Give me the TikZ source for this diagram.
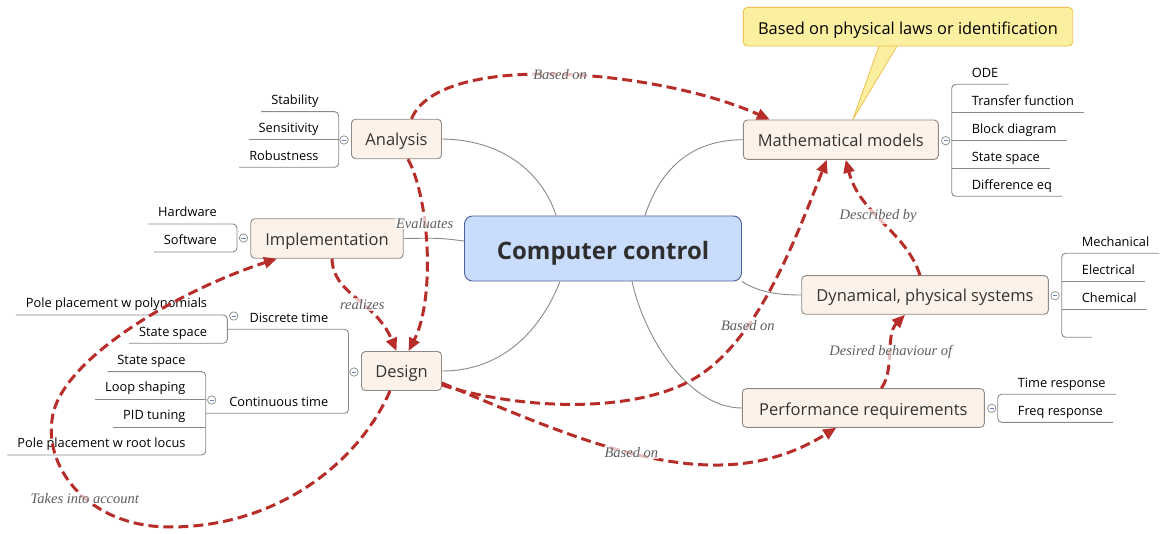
\documentclass[tikz,border=0pt]{standalone}
\usepackage{fontspec}
\setmainfont{Open Sans}
\newfontfamily\relfont{Liberation Serif}
\usepackage{tikz}
\usetikzlibrary{arrows.meta}
\usetikzlibrary{calc}

\definecolor{topicfill}{HTML}{FDF2E9}
\definecolor{topicline}{HTML}{8E8984}
\definecolor{centrefill}{HTML}{C9DCFB}
\definecolor{centreline}{HTML}{4A6399}
\definecolor{notefill}{HTML}{FBF0A0}
\definecolor{noteline}{HTML}{F0C453}
\definecolor{relred}{HTML}{B72D29}
\definecolor{labelgray}{HTML}{5E5E5E}
\definecolor{textgray}{HTML}{333333}
\definecolor{branchgray}{HTML}{8A8A8A}
\definecolor{foldblue}{HTML}{6B85C2}

\tikzset{
  topic/.style={draw=topicline, fill=topicfill, rounded corners=4pt, line width=0.9pt,
    inner sep=0pt, text height=14pt, text depth=0pt, text=textgray,
    font=\fontsize{16.5}{20}\selectfont},
  itemL/.style={anchor=south east, inner xsep=10pt, inner ysep=7pt, text height=9.5pt,
    text depth=0pt, font=\fontsize{12.8}{15}\selectfont, text=black},
  itemR/.style={itemL, anchor=south west},
  branch/.style={draw=branchgray, line width=0.9pt, rounded corners=4pt},
  spoke/.style={draw=branchgray, line width=0.9pt},
  rel/.style={draw=relred, line width=3pt, dash pattern=on 10pt off 5pt,
    -{Triangle[length=13pt, width=11pt]}},
  lbl/.style={font=\relfont\itshape\fontsize{14.5}{16}\selectfont, text=labelgray,
    fill=white, fill opacity=0.7, text opacity=1, inner sep=1pt},
  fold/.style={draw=branchgray, fill=white, line width=0.7pt}
}

\begin{document}
\begin{tikzpicture}[x=1pt, y=-1pt]

\fill[white] (0,0) rectangle (1170,534);
\useasboundingbox (0,0) rectangle (1170,534);

% main topic and its branches
\node[draw=centreline, fill=centrefill, rounded corners=8pt, line width=0.9pt,
  minimum width=277pt, minimum height=65pt, inner sep=0pt, text height=21.6pt, text depth=0pt,
  text=textgray!90!black, font=\bfseries\fontsize{24}{28}\selectfont]
  (centre) at (603,248.5) {Computer control};

\node[topic, minimum width=90pt, minimum height=39.5pt] (analysis) at (396.5,139) {Analysis};
\node[topic, minimum width=152.5pt, minimum height=39.5pt] (impl) at (327,238.5) {Implementation};
\node[topic, minimum width=80pt, minimum height=39pt] (design) at (401.5,371) {Design};
\node[topic, minimum width=195pt, minimum height=39.3pt] (models) at (840.8,139.7) {Mathematical models};
\node[topic, minimum width=246.6pt, minimum height=38.6pt] (systems) at (925,295) {Dynamical, physical systems};
\node[topic, minimum width=242pt, minimum height=38.6pt] (perf) at (863.3,408) {Performance requirements};

\draw[spoke] (analysis.east) .. controls (510,140) and (545,180) .. ([xshift=-47pt]centre.north);
\draw[spoke] (impl.east) .. controls (440,238) .. ([yshift=7.5pt]centre.west);
\draw[spoke] (design.east) .. controls (510,371) and (545,320) .. ([xshift=-43pt]centre.south);
\draw[spoke] ([xshift=42pt]centre.north) .. controls (660,170) and (690,140) .. (models.west);
\draw[spoke] (centre.south east) .. controls (760,293) and (780,295) .. (systems.west);
\draw[spoke] ([xshift=29pt]centre.south) .. controls (645,340) and (690,408) .. (perf.west);

% note
\fill[notefill] (880,45) -- ([xshift=12pt]models.north) -- (897,45) -- cycle;
\draw[noteline, line width=0.9pt] (879,46) -- ([xshift=12pt]models.north) -- (897,46);
\node[draw=noteline, fill=notefill, rounded corners=4pt, line width=0.9pt,
  minimum width=329.4pt, minimum height=38.7pt, inner sep=0pt, text height=15.2pt, text depth=0pt,
  font=\fontsize{16.4}{18}\selectfont, text=black] (note) at (908,26.7)
  {Based on physical laws or identification};

% subtopics
\node[itemL] (stab) at (328.7,111.7) {Stability};
\node[itemL] (sens) at (328.7,139.3) {Sensitivity};
\node[itemL] (robu) at (328.7,167.3) {Robustness};
\draw[branch] (stab.south west) -- ([xshift=10pt]stab.south east) |- (robu.south west);
\draw[branch] (sens.south west) -- ([xshift=10pt]sens.south east);

\node[itemL] (hw) at (227,224) {Hardware};
\node[itemL] (sw) at (227,252) {Software};
\draw[branch] (hw.south west) -- ([xshift=10pt]hw.south east) |- (sw.south west);

\node[itemL] (disc) at (338.5,329.3) {Discrete time};
\node[itemL] (cont) at (338.5,413.3) {Continuous time};
\node[itemL] (dpoly) at (217.3,315) {Pole placement w polynomials};
\node[itemL] (dss) at (217.3,343.3) {State space};
\node[itemL] (css) at (195.7,371.7) {State space};
\node[itemL] (loop) at (195.7,399) {Loop shaping};
\node[itemL] (pid) at (195.7,427) {PID tuning};
\node[itemL] (croot) at (195.7,455) {Pole placement w root locus};
\draw[branch] ([xshift=10pt]dpoly.south east |- disc.south) -- ([xshift=10pt]disc.south east)
  |- ([xshift=10pt]css.south east |- cont.south);
\draw[branch] (dpoly.south west) -- ([xshift=10pt]dpoly.south east) |- (dss.south west);
\draw[branch] (css.south west) -- ([xshift=10pt]css.south east) |- (croot.south west);
\draw[branch] (loop.south west) -- ([xshift=10pt]loop.south east);
\draw[branch] (pid.south west) -- ([xshift=10pt]pid.south east);

\node[itemR] (ode) at (961.7,84.3) {ODE};
\node[itemR] (tf) at (961.7,112.7) {Transfer function};
\node[itemR] (bd) at (961.7,140.7) {Block diagram};
\node[itemR] (mss) at (961.7,168.3) {State space};
\node[itemR] (deq) at (961.7,196.3) {Difference eq};
\draw[branch] (ode.south east) -- ([xshift=-10pt]ode.south west) |- (deq.south east);
\foreach \n in {tf,bd,mss}
  \draw[branch] (\n.south east) -- ([xshift=-10pt]\n.south west);

\node[itemR] (mech) at (1071.7,253.3) {Mechanical};
\node[itemR] (elec) at (1071.7,281.7) {Electrical};
\node[itemR] (chem) at (1071.7,309.3) {Chemical};
\node[itemR] (blank) at (1071.7,337.3) {};
\draw[branch] (mech.south east) -- ([xshift=-10pt]mech.south west) |- (blank.south east);
\foreach \n in {elec,chem}
  \draw[branch] (\n.south east) -- ([xshift=-10pt]\n.south west);

\node[itemR] (tresp) at (1007.7,394.3) {Time response};
\node[itemR] (fresp) at (1007.7,422.3) {Freq response};
\draw[branch] (tresp.south east) -- ([xshift=-10pt]tresp.south west) |- (fresp.south east);

% fold markers
\foreach \cx/\cy in {344/140, 243.5/238, 354/372, 233.7/316, 211.7/400,
                     945.7/140.7, 1055/295.7, 991.7/408.3}
  \draw[fold] (\cx,\cy) circle[radius=4.2pt]
    (\cx-2.2,\cy) edge[draw=foldblue, line width=0.7pt] (\cx+2.2,\cy);

% relationships
\draw[rel] ([xshift=15pt]analysis.north) .. controls (440,50) and (660,70)
  .. node[lbl, pos=0.5] (rbased1) {Based on} ([xshift=-71pt]models.north);
\draw[rel] ([xshift=11.5pt]analysis.south) .. controls (430,200) and (435,300)
  .. node[lbl, pos=0.37] (revals) {Evaluates} ([xshift=7pt]design.north);
\draw[rel] ([xshift=5pt]impl.south) .. controls (333,295) and (375,300)
  .. node[lbl, pos=0.57] (rreal) {realizes} ([xshift=-5pt]design.north);
\draw[rel] ([xshift=-11.5pt]design.south) .. controls (360,460) and (280,527) .. (170,527)
  .. controls (90,527) and (45,470) .. node[lbl, pos=0.45] (rtakes) {Takes into account} (52,420)
  .. controls (58,360) and (180,290) .. ([xshift=-50pt]impl.south);
\draw[rel] ([yshift=-14pt]design.east) .. controls (520,410) and (640,415) .. (700,375)
  .. controls (760,335) and (795,240) .. node[lbl, pos=0.3] (rbased2) {Based on} ([xshift=-14pt]models.south);
\draw[rel] ([yshift=-12pt]design.east) .. controls (600,450) and (720,500)
  .. node[lbl, pos=0.44] (rbased3) {Based on} ([xshift=-27pt]perf.south);
\draw[rel] ([xshift=18pt]perf.north) .. controls (895,370) and (885,335)
  .. node[lbl, pos=0.5] (rdesired) {Desired behaviour of} ([xshift=-20pt]systems.south);
\draw[rel] ([xshift=-5pt]systems.north) .. controls (905,230) and (860,215)
  .. node[lbl, pos=0.55] (rdescr) {Described by} ([xshift=5pt]models.south);

\end{tikzpicture}
\end{document}
